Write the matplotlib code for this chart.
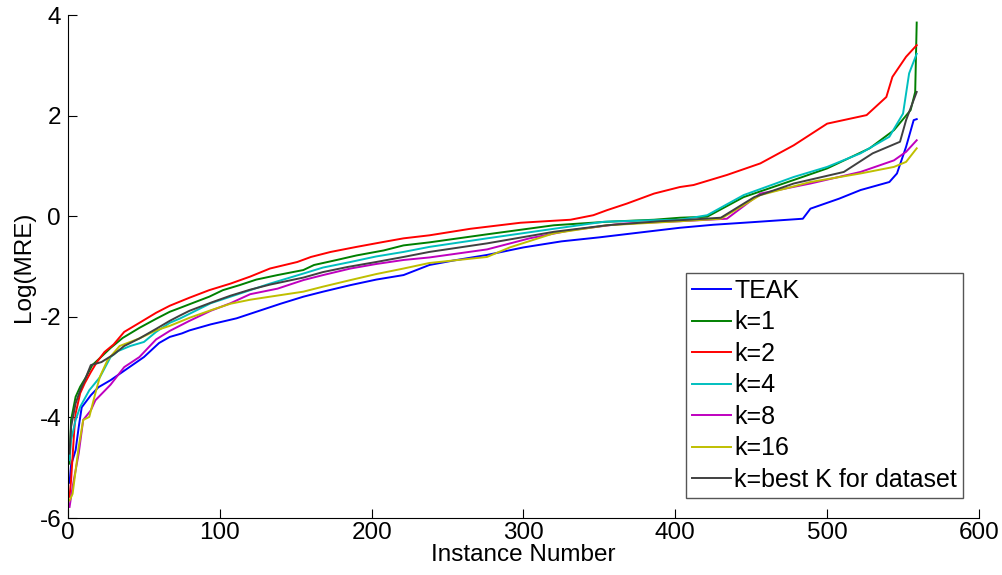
import matplotlib
matplotlib.use('Agg')
import matplotlib.pyplot as plt

plt.rcParams['font.family'] = ['Liberation Sans', 'DejaVu Sans']
plt.rcParams['axes.unicode_minus'] = False

# Sorted log(MRE) per instance at selected instances
teak_x = [1, 2, 5, 7, 9, 15, 20, 28, 39, 50, 60, 67, 75, 80, 94, 111, 124, 140, 155, 168, 186, 203,
          221, 238, 254, 276, 300, 325, 350, 375, 403, 425, 450, 484, 489, 508, 522, 541, 546, 552, 557, 559]
teak_y = [-5.3, -4.95, -4.65, -4.2, -3.8, -3.56, -3.4, -3.26, -3.03, -2.8, -2.52, -2.40, -2.33, -2.27,
          -2.15, -2.03, -1.9, -1.74, -1.6, -1.5, -1.37, -1.26, -1.17, -0.97, -0.88, -0.77, -0.62, -0.5,
          -0.42, -0.33, -0.23, -0.17, -0.12, -0.05, 0.15, 0.35, 0.52, 0.68, 0.85, 1.38, 1.91, 1.93]

k1_x = [1, 2, 5, 8, 12, 16, 21, 28, 36, 47, 58, 67, 74, 80, 93, 102, 113, 124, 138, 155, 162, 177,
        190, 208, 221, 238, 276, 320, 355, 386, 403, 421, 445, 478, 500, 528, 544, 555, 558, 559]
k1_y = [-4.92, -4.05, -3.59, -3.39, -3.19, -2.96, -2.82, -2.62, -2.42, -2.22, -2.04, -1.9, -1.82,
        -1.75, -1.6, -1.47, -1.37, -1.26, -1.17, -1.07, -0.97, -0.87, -0.78, -0.68, -0.58, -0.52, -0.36,
        -0.18, -0.11, -0.07, -0.03, -0.01, 0.38, 0.72, 0.95, 1.35, 1.71, 2.11, 2.47, 3.85]

k2_x = [1, 2, 4, 5, 8, 11, 15, 19, 24, 30, 37, 47, 58, 67, 80, 93, 107, 120, 133, 151, 160, 173, 190,
        208, 221, 238, 265, 298, 331, 346, 355, 368, 386, 403, 412, 434, 456, 478, 500, 526, 539, 543,
        552, 559]
k2_y = [-5.58, -5.25, -4.3, -3.92, -3.52, -3.32, -3.1, -2.9, -2.7, -2.55, -2.3, -2.12, -1.92, -1.78,
        -1.62, -1.47, -1.34, -1.2, -1.04, -0.91, -0.81, -0.71, -0.61, -0.51, -0.44, -0.38, -0.25, -0.13,
        -0.07, 0.02, 0.12, 0.25, 0.45, 0.58, 0.62, 0.82, 1.05, 1.41, 1.84, 2.01, 2.37, 2.77, 3.17, 3.40]

k4_x = [1, 2, 5, 8, 14, 21, 28, 33, 41, 50, 58, 67, 74, 80, 94, 107, 120, 133, 155, 168, 186, 203, 221,
        238, 276, 320, 353, 386, 403, 421, 445, 478, 500, 522, 541, 550, 554, 559]
k4_y = [-4.85, -4.45, -4.05, -3.79, -3.46, -3.2, -2.8, -2.68, -2.58, -2.5, -2.3, -2.12, -2.03, -1.94,
        -1.73, -1.6, -1.47, -1.34, -1.14, -1.02, -0.91, -0.80, -0.71, -0.61, -0.44, -0.25, -0.11, -0.08,
        -0.07, 0.02, 0.42, 0.78, 0.98, 1.25, 1.58, 2.04, 2.84, 3.23]

k8_x = [1, 3, 7, 10, 15, 18, 28, 37, 47, 58, 67, 80, 94, 107, 120, 138, 155, 168, 186, 203, 221, 238,
        276, 304, 331, 364, 403, 434, 456, 489, 522, 544, 552, 559]
k8_y = [-5.78, -5.38, -4.72, -4.05, -3.86, -3.66, -3.35, -3.0, -2.8, -2.45, -2.28, -2.08, -1.88, -1.73,
        -1.55, -1.44, -1.27, -1.17, -1.04, -0.95, -0.87, -0.82, -0.66, -0.44, -0.28, -0.15, -0.10, -0.05,
        0.45, 0.65, 0.88, 1.11, 1.28, 1.51]

k16_x = [1, 3, 7, 10, 14, 18, 21, 26, 34, 47, 58, 67, 80, 94, 107, 120, 133, 155, 168, 186, 203, 221,
         238, 276, 291, 320, 355, 403, 430, 456, 489, 522, 544, 552, 559]
k16_y = [-5.65, -5.52, -4.59, -4.05, -3.99, -3.52, -3.19, -2.86, -2.58, -2.43, -2.27, -2.18, -2.02,
         -1.87, -1.74, -1.66, -1.6, -1.50, -1.40, -1.27, -1.15, -1.04, -0.93, -0.81, -0.62, -0.34, -0.18,
         -0.10, -0.05, 0.42, 0.68, 0.85, 0.98, 1.08, 1.35]

best_x = [1, 2, 5, 8, 11, 15, 22, 30, 37, 47, 58, 67, 74, 80, 94, 107, 120, 133, 155, 168, 184, 203,
          221, 238, 276, 320, 355, 390, 403, 430, 452, 478, 511, 530, 548, 552, 559]
best_y = [-4.72, -4.19, -3.72, -3.46, -3.26, -2.96, -2.9, -2.75, -2.58, -2.43, -2.24, -2.08, -1.97,
          -1.88, -1.72, -1.58, -1.46, -1.36, -1.22, -1.11, -1.01, -0.91, -0.81, -0.71, -0.54, -0.31,
          -0.18, -0.10, -0.08, -0.03, 0.38, 0.65, 0.88, 1.25, 1.48, 1.91, 2.47]

labels = ['TEAK', 'k=1', 'k=2', 'k=4', 'k=8', 'k=16', 'k=best K for dataset']
colors = ['#0000ff', '#008000', '#ff0000', '#00bfbf', '#bf00bf', '#bfbf00', '#404040']
series = [(teak_x, teak_y), (k1_x, k1_y), (k2_x, k2_y), (k4_x, k4_y),
          (k8_x, k8_y), (k16_x, k16_y), (best_x, best_y)]

fig = plt.figure(figsize=(10.02, 5.75), dpi=100)
ax = fig.add_axes([0.0679, 0.0991, 0.9091, 0.8748])

for (xs, ys), lab, col in zip(series, labels, colors):
    ax.plot(xs, ys, color=col, lw=1.4, label=lab)

ax.set_xlim(0, 600)
ax.set_ylim(-6, 4)
ax.set_xticks(range(0, 601, 100))
ax.set_yticks(range(-6, 5, 2))
ax.spines['top'].set_visible(False)
ax.spines['right'].set_visible(False)
ax.tick_params(direction='in', length=6.5, labelsize=17.5, pad=3)
ax.tick_params(axis='y', pad=5)
ax.set_xlabel('Instance Number', fontsize=17.5, labelpad=0)
ax.set_ylabel('Log(MRE)', fontsize=17.5, labelpad=3)

leg = ax.legend(loc='upper left', bbox_to_anchor=(0.678, 0.4877), borderaxespad=0,
                fontsize=18, handlelength=1.55, handletextpad=0.15, labelspacing=0.3,
                borderpad=0.25, fancybox=False, framealpha=1)
leg.get_frame().set_edgecolor('#555555')
leg.get_frame().set_linewidth(1.0)

fig.savefig('out.png', dpi=100)
